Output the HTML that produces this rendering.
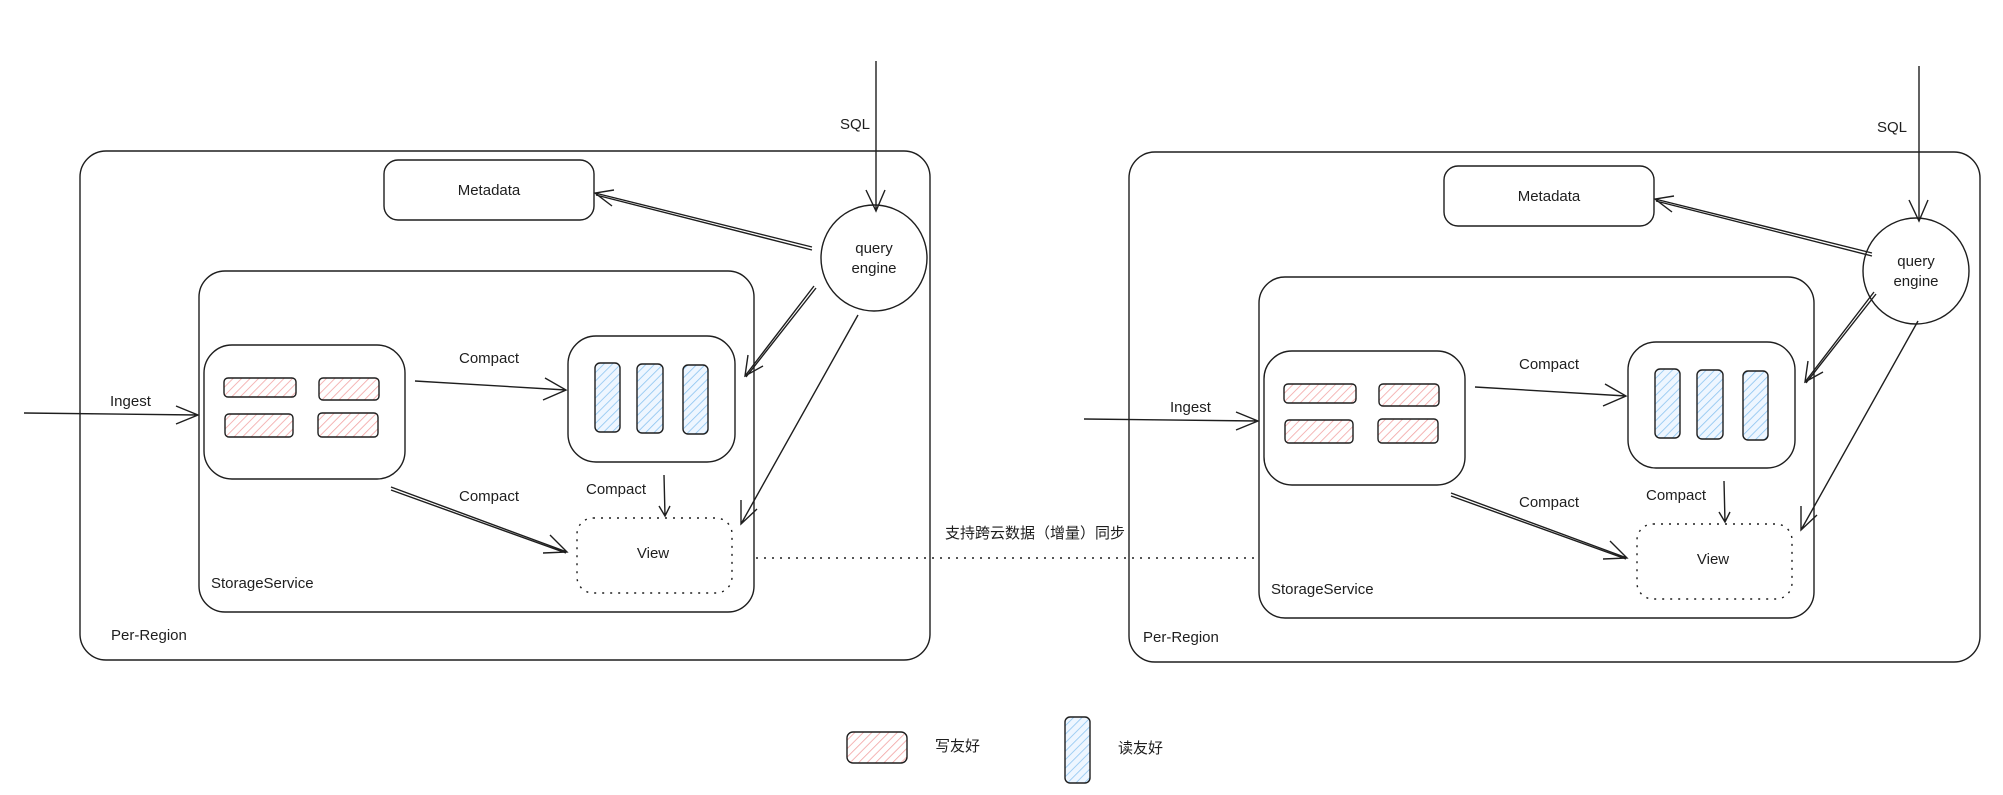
<!DOCTYPE html>
<html><head><meta charset="utf-8"><style>
html,body{margin:0;padding:0;background:#fff;}
svg{display:block;}
text{font-family:"Liberation Sans","Noto Sans CJK SC",sans-serif;font-size:15px;fill:#1e1e1e;}
</style></head><body>
<svg width="2003" height="795" viewBox="0 0 2003 795" xmlns="http://www.w3.org/2000/svg">
<defs>
<pattern id="pk" width="6" height="6" patternUnits="userSpaceOnUse" patternTransform="rotate(45)">
<rect width="6" height="6" fill="#fff"/><line x1="0" y1="0" x2="0" y2="6" stroke="#f2a3a3" stroke-width="1.6"/></pattern>
<pattern id="bl" width="6" height="6" patternUnits="userSpaceOnUse" patternTransform="rotate(45)">
<rect width="6" height="6" fill="#eef6ff"/><line x1="0" y1="0" x2="0" y2="6" stroke="#8cc4f0" stroke-width="1.6"/></pattern>
<g id="inner" fill="none" stroke="#1e1e1e" stroke-width="1.4">
  <rect x="384" y="160" width="210" height="60" rx="14"/>
  <rect x="199" y="271" width="555" height="341" rx="26"/>
  <rect x="204" y="345" width="201" height="134" rx="28"/>
  <rect x="224" y="378" width="72" height="19" rx="4" fill="url(#pk)"/>
  <rect x="319" y="378" width="60" height="22" rx="4" fill="url(#pk)"/>
  <rect x="225" y="414" width="68" height="23" rx="4" fill="url(#pk)"/>
  <rect x="318" y="413" width="60" height="24" rx="4" fill="url(#pk)"/>
  <rect x="568" y="336" width="167" height="126" rx="28"/>
  <rect x="595" y="363" width="25" height="69" rx="5" fill="url(#bl)"/>
  <rect x="637" y="364" width="26" height="69" rx="5" fill="url(#bl)"/>
  <rect x="683" y="365" width="25" height="69" rx="5" fill="url(#bl)"/>
  <rect x="577" y="518" width="155" height="75" rx="16" stroke-dasharray="2 6"/>
  <path d="M24 413 L198 415 M176 406 L198 415 L176 424"/>
  <path d="M415 381 L566 390 M545 378 L566 390 L543 400"/>
  <path d="M391 487 L567 552 M391 490 L566 553 M550 535 L567 552 L543 553"/>
  <path d="M664 475 L665 516 M659 506 L665 516 L670 506"/>
  <path d="M812 247 L595 193 M812 250 L596 195 M614 190 L595 193 L612 206"/>
  <path d="M814 286 L745 376 M816 288 L746 377 M748 355 L745 376 L763 366"/>
  <path d="M858 315 L741 524 M741 500 L741 524 L757 509"/>
</g>
<g id="itext">
  <text x="489" y="195" text-anchor="middle">Metadata</text>
  <text x="211" y="588">StorageService</text>
  <text x="110" y="406">Ingest</text>
  <text x="489" y="363" text-anchor="middle">Compact</text>
  <text x="489" y="501" text-anchor="middle">Compact</text>
  <text x="616" y="494" text-anchor="middle">Compact</text>
  <text x="653" y="558" text-anchor="middle">View</text>
</g>
</defs>
<!-- left -->
<rect x="80" y="151" width="850" height="509" rx="26" fill="none" stroke="#1e1e1e" stroke-width="1.4"/>
<text x="111" y="640">Per-Region</text>
<use href="#inner"/><use href="#itext"/>
<circle cx="874" cy="258" r="53" fill="none" stroke="#1e1e1e" stroke-width="1.4"/>
<text x="874" y="253" text-anchor="middle">query</text>
<text x="874" y="273" text-anchor="middle">engine</text>
<path d="M876 61 L876 211 M866 190 L876 211 L885 190" fill="none" stroke="#1e1e1e" stroke-width="1.4"/>
<text x="855" y="129" text-anchor="middle">SQL</text>
<!-- right -->
<rect x="1129" y="152" width="851" height="510" rx="26" fill="none" stroke="#1e1e1e" stroke-width="1.4"/>
<text x="1143" y="642">Per-Region</text>
<g transform="translate(1060,6)"><use href="#inner"/><use href="#itext"/></g>
<circle cx="1916" cy="271" r="53" fill="none" stroke="#1e1e1e" stroke-width="1.4"/>
<text x="1916" y="266" text-anchor="middle">query</text>
<text x="1916" y="286" text-anchor="middle">engine</text>
<path d="M1919 66 L1919 221 M1909 200 L1919 221 L1928 200" fill="none" stroke="#1e1e1e" stroke-width="1.4"/>
<text x="1892" y="132" text-anchor="middle">SQL</text>
<!-- sync -->
<line x1="756" y1="558" x2="1258" y2="558" stroke="#1e1e1e" stroke-width="1.4" stroke-dasharray="2 6"/>
<text x="1035" y="538" text-anchor="middle">支持跨云数据（增量）同步</text>
<!-- legend -->
<rect x="847" y="732" width="60" height="31" rx="6" fill="url(#pk)" stroke="#1e1e1e" stroke-width="1.4"/>
<text x="935" y="751">写友好</text>
<rect x="1065" y="717" width="25" height="66" rx="5" fill="url(#bl)" stroke="#1e1e1e" stroke-width="1.4"/>
<text x="1118" y="753">读友好</text>
</svg>
</body></html>
